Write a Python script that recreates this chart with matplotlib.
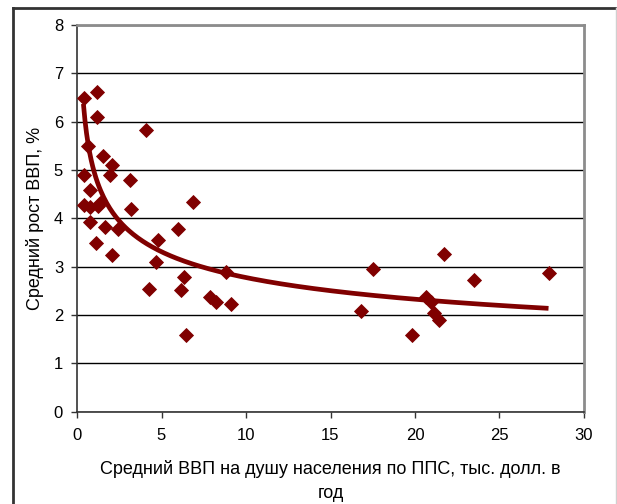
import numpy as np
import matplotlib
matplotlib.use("Agg")
from matplotlib import pyplot as plt
from matplotlib.lines import Line2D

plt.rcParams['font.family'] = ['Liberation Sans', 'DejaVu Sans']

# средний ВВП на душу (тыс. долл.) и средний рост ВВП (%)
gdp_pc = [0.40, 1.18, 1.18, 4.07, 0.65, 1.54, 2.07, 1.93, 0.40, 3.16,
          0.75, 0.40, 0.75, 1.24, 1.34, 3.22, 6.86, 0.75, 1.64, 2.43,
          1.15, 2.07, 4.80, 5.98, 4.70, 4.24, 6.31, 6.14, 8.84, 7.85,
          8.20, 9.13, 6.47, 17.5, 16.8, 21.7, 23.47, 27.9, 20.67, 20.97,
          21.1, 21.4, 19.8]
growth = [6.49, 6.62, 6.10, 5.82, 5.49, 5.30, 5.11, 4.89, 4.89, 4.80,
          4.58, 4.28, 4.23, 4.25, 4.32, 4.19, 4.33, 3.92, 3.83, 3.77,
          3.50, 3.25, 3.56, 3.78, 3.09, 2.53, 2.78, 2.52, 2.89, 2.38,
          2.27, 2.23, 1.59, 2.95, 2.09, 3.27, 2.73, 2.87, 2.38, 2.26,
          2.05, 1.90, 1.58]

# степенной тренд y = c * x^p
trend_c = 4.98
trend_p = -0.254
trend_x0, trend_x1 = 0.38, 27.9

xticks = [0, 5, 10, 15, 20, 25, 30]
yticks = [0, 1, 2, 3, 4, 5, 6, 7, 8]

col = '#800000'

fig = plt.figure(figsize=(6.17, 5.04), dpi=100)
ax = fig.add_axes([77 / 617, 1 - 411.7 / 504, 507 / 617, 386.7 / 504])

xs = np.linspace(trend_x0, trend_x1, 300)
ax.plot(xs, trend_c * xs ** trend_p, color=col, linewidth=3.4, zorder=3,
        solid_capstyle='butt')

ax.plot(gdp_pc, growth, linestyle='none', marker='D', markersize=7.6,
        markerfacecolor=col, markeredgecolor=col, markeredgewidth=0.6, zorder=4)

ax.set_xlim(0, 30)
ax.set_ylim(0, 8)
ax.set_xticks(xticks)
ax.set_yticks(yticks)
ax.yaxis.grid(True, color='black', linewidth=1.0)
ax.set_axisbelow(True)
ax.tick_params(direction='out', length=4, width=1, color='#333333',
               labelsize=12)
ax.tick_params(axis='x', pad=8)
ax.tick_params(axis='y', pad=6)

for s in ['left', 'bottom']:
    ax.spines[s].set_color('#333333')
    ax.spines[s].set_linewidth(1.2)
for s in ['top', 'right']:
    ax.spines[s].set_color('#8c8c8c')
    ax.spines[s].set_linewidth(2.0)

ax.set_ylabel('Средний рост ВВП, %', fontsize=13, labelpad=7)
ax.set_xlabel('Средний ВВП на душу населения по ППС, тыс. долл. в\nгод',
              fontsize=13, labelpad=12, linespacing=1.55)

# рамка вокруг диаграммы
fig.add_artist(Line2D([13 / 617, 615 / 617], [1 - 8 / 504, 1 - 8 / 504],
                      color='#333333', linewidth=2, transform=fig.transFigure))
fig.add_artist(Line2D([13 / 617, 13 / 617], [0, 1 - 8 / 504],
                      color='#333333', linewidth=2, transform=fig.transFigure))
fig.add_artist(Line2D([616 / 617, 616 / 617], [0, 1 - 8 / 504],
                      color='#d0d0d0', linewidth=1, transform=fig.transFigure))

fig.savefig('out.png', dpi=100)
